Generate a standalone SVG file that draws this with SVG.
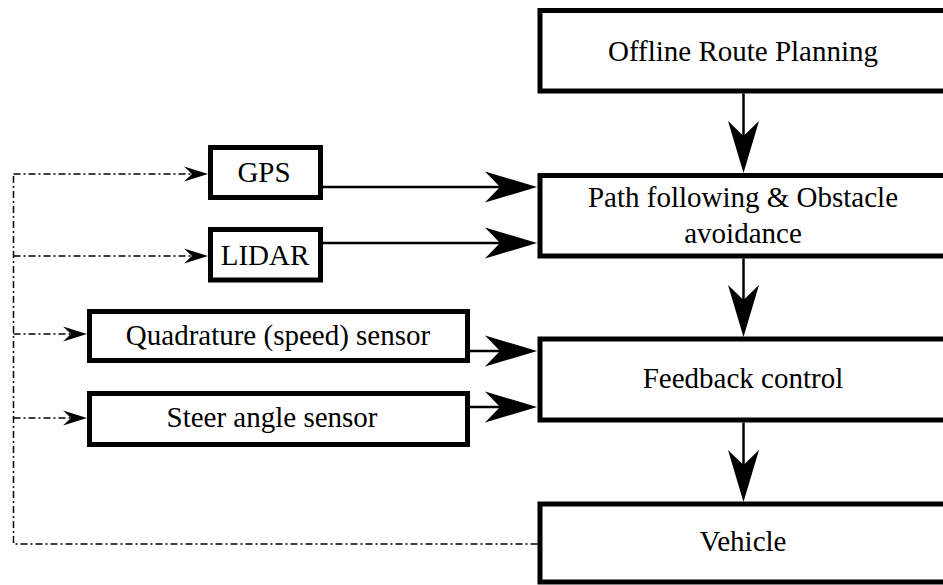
<svg xmlns="http://www.w3.org/2000/svg" width="943" height="585" viewBox="0 0 943 585">
  <style>
    .box { fill: #ffffff; stroke: #000000; stroke-width: 5; }
    .lbl { font-family: "Liberation Serif", "Times New Roman", serif; font-size: 29px; fill: #000000; text-anchor: middle; }
    .flow { fill: none; stroke: #000000; stroke-width: 2.5; marker-end: url(#bigHead); }
    .fb { fill: none; stroke: #000000; stroke-width: 1.5; stroke-dasharray: 7 3 2 3; }
    .fbArrow { marker-end: url(#smallHead); }
  </style>
  <defs>
    <!-- barbed arrowhead for the main signal flow; refX sits on the notch -->
    <marker id="bigHead" markerUnits="userSpaceOnUse" markerWidth="52" markerHeight="31"
            viewBox="0 -15.5 52 31" refX="15" refY="0" orient="auto" overflow="visible">
      <path d="M0,-15.5 L52,0 L0,15.5 L15,0 Z" fill="#000000"/>
    </marker>
    <!-- small barbed arrowhead for the measurement feedback -->
    <marker id="smallHead" markerUnits="userSpaceOnUse" markerWidth="24" markerHeight="15"
            viewBox="0 -7.5 24 15" refX="8" refY="0" orient="auto" overflow="visible">
      <path d="M0,-7.5 L24,0 L0,7.5 L8,0 Z" fill="#000000"/>
    </marker>
  </defs>

  <rect width="943" height="585" fill="#ffffff"/>

  <g id="connectors">
    <!-- planning chain -->
    <path class="flow" d="M743.5,93.5 V136"/>
    <path class="flow" d="M743.5,258.5 V300"/>
    <path class="flow" d="M743.5,422.5 V465"/>
    <!-- sensors to controllers -->
    <path class="flow" d="M323,187 H500"/>
    <path class="flow" d="M323,243 H500"/>
    <path class="flow" d="M470,351 H500"/>
    <path class="flow" d="M470,407 H500"/>
    <!-- vehicle state fed back to the sensors -->
    <path class="fb" d="M537.5,544 H13.5 V174"/>
    <path class="fb fbArrow" d="M13.5,174 H192"/>
    <path class="fb fbArrow" d="M13.5,256 H192"/>
    <path class="fb fbArrow" d="M13.5,334 H71"/>
    <path class="fb fbArrow" d="M13.5,418 H71"/>
  </g>

  <g id="offline-route-planning">
    <rect class="box" x="540" y="10.5" width="408" height="80.5"/>
    <text class="lbl" x="743" y="61">Offline Route Planning</text>
  </g>

  <g id="path-following">
    <rect class="box" x="540" y="175.5" width="408" height="80.5"/>
    <text class="lbl" x="743" y="207">Path following &amp; Obstacle</text>
    <text class="lbl" x="743" y="243">avoidance</text>
  </g>

  <g id="feedback-control">
    <rect class="box" x="540" y="339" width="408" height="81"/>
    <text class="lbl" x="743" y="388">Feedback control</text>
  </g>

  <g id="vehicle">
    <rect class="box" x="540" y="504" width="408" height="78"/>
    <text class="lbl" x="743" y="551">Vehicle</text>
  </g>

  <g id="gps">
    <rect class="box" x="210.5" y="147.5" width="110" height="50"/>
    <text class="lbl" x="264" y="182">GPS</text>
  </g>

  <g id="lidar">
    <rect class="box" x="210.5" y="229.5" width="110" height="50.5"/>
    <text class="lbl" x="265" y="265">LIDAR</text>
  </g>

  <g id="quadrature-sensor">
    <rect class="box" x="89.5" y="311.5" width="378" height="49"/>
    <text class="lbl" x="278" y="345">Quadrature (speed) sensor</text>
  </g>

  <g id="steer-angle-sensor">
    <rect class="box" x="89.5" y="393.5" width="378" height="51"/>
    <text class="lbl" x="272" y="427">Steer angle sensor</text>
  </g>
</svg>
